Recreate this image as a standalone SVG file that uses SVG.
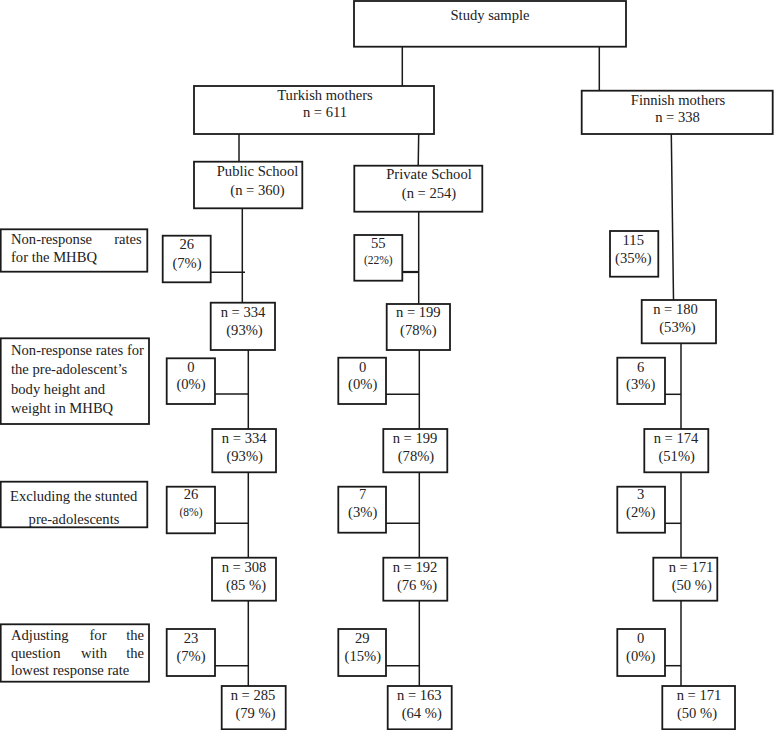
<svg xmlns="http://www.w3.org/2000/svg" width="774" height="730" viewBox="0 0 774 730">
<style>
rect{fill:#fff;stroke:#1a1a1a;stroke-width:1.8}
text{font-family:"Liberation Serif","Times New Roman",serif;font-size:14.6px;fill:#222;text-anchor:middle}
text.l{text-anchor:start}
.s{font-size:11.5px}
#connectors line{stroke:#1a1a1a;stroke-width:1.5}
</style>
<rect x="0" y="0" width="774" height="730" style="stroke:none;fill:#fff"/>
<g id="connectors">
<line x1="402.3" y1="46.7" x2="402.3" y2="86"/>
<line x1="599.3" y1="46.7" x2="599.3" y2="90.7"/>
<line x1="239" y1="134" x2="239" y2="162"/>
<line x1="418.7" y1="134" x2="418.2" y2="166"/>
<line x1="671.3" y1="134" x2="673.5" y2="300"/>
<line x1="242.3" y1="208.3" x2="242.3" y2="302.7"/>
<line x1="248.3" y1="350" x2="248.3" y2="429"/>
<line x1="248.3" y1="472.3" x2="248.3" y2="557.7"/>
<line x1="248.3" y1="600.7" x2="248.3" y2="686"/>
<line x1="210.7" y1="272.3" x2="245" y2="272.3"/>
<line x1="215" y1="394" x2="249" y2="394"/>
<line x1="215" y1="523.3" x2="249" y2="523.3"/>
<line x1="215" y1="665.7" x2="249" y2="665.7"/>
<line x1="418.7" y1="211.7" x2="418.7" y2="304"/>
<line x1="419.3" y1="350" x2="419.3" y2="429"/>
<line x1="419.3" y1="472.3" x2="419.3" y2="557.7"/>
<line x1="419.3" y1="600.7" x2="419.3" y2="686"/>
<line x1="402.3" y1="272" x2="419" y2="272" style="stroke-width:2.2"/>
<line x1="386" y1="394.3" x2="419.3" y2="394.3"/>
<line x1="386" y1="523.3" x2="419.3" y2="523.3"/>
<line x1="386" y1="665.7" x2="419.3" y2="665.7"/>
<line x1="681" y1="343.3" x2="681" y2="429"/>
<line x1="681" y1="472.3" x2="681" y2="557.7"/>
<line x1="681" y1="600.7" x2="681" y2="686"/>
<line x1="665" y1="394.3" x2="681" y2="394.3"/>
<line x1="665" y1="523.3" x2="681" y2="523.3"/>
<line x1="665" y1="665.7" x2="681" y2="665.7"/>
</g>
<g id="study"><rect x="354" y="1" width="272" height="45.7"/><text x="490" y="20">Study sample</text></g>
<g id="turkish"><rect x="194" y="86" width="240" height="48"/><text x="325" y="100">Turkish mothers</text><text x="325" y="117">n = 611</text></g>
<g id="finnish"><rect x="581.7" y="90.7" width="191" height="43.3"/><text x="678" y="105">Finnish mothers</text><text x="677.5" y="122">n = 338</text></g>
<g id="public"><rect x="194" y="161.7" width="108.3" height="46.6"/><text x="257.5" y="176">Public School</text><text x="257.5" y="195">(n = 360)</text></g>
<g id="private"><rect x="354.3" y="165.7" width="128" height="46"/><text x="429" y="179.3">Private School</text><text x="429" y="197.7">(n = 254)</text></g>
<g id="label1"><rect x="0.7" y="229.3" width="146.6" height="42.4"/><text class="l" y="244"><tspan x="11">Non-response</tspan><tspan x="141.7" style="text-anchor:end">rates</tspan></text><text class="l" x="11" y="262">for the MHBQ</text></g>
<g id="label2"><rect x="0.7" y="338.3" width="148.3" height="85.7"/><text class="l" x="11" y="355">Non-response rates for</text><text class="l" x="11" y="374">the pre-adolescent’s</text><text class="l" x="11" y="394">body height and</text><text class="l" x="11" y="413">weight in MHBQ</text></g>
<g id="label3"><rect x="0.7" y="481.7" width="146.6" height="45.6"/><text class="l" x="10" y="500.7">Excluding the stunted</text><text x="74" y="524">pre-adolescents</text></g>
<g id="label4"><rect x="0.7" y="624.3" width="148.3" height="57.4"/><text class="l" y="640"><tspan x="11">Adjusting</tspan><tspan x="98" style="text-anchor:middle">for</tspan><tspan x="144" style="text-anchor:end">the</tspan></text><text class="l" y="657.7"><tspan x="11">question</tspan><tspan x="94" style="text-anchor:middle">with</tspan><tspan x="144" style="text-anchor:end">the</tspan></text><text class="l" x="11" y="675">lowest response rate</text></g>
<g id="pub-nr1"><rect x="162.7" y="235.7" width="48" height="46.6"/><text x="186.7" y="249">26</text><text x="187" y="267.7">(7%)</text></g>
<g id="pub-n1"><rect x="210.7" y="302.7" width="64.3" height="47.3"/><text x="243" y="317">n = 334</text><text x="244.5" y="335">(93%)</text></g>
<g id="pub-nr2"><rect x="166.7" y="358.3" width="48.3" height="45.7"/><text x="191" y="371.7">0</text><text x="191" y="389">(0%)</text></g>
<g id="pub-n2"><rect x="212.3" y="429" width="63.7" height="43.3"/><text x="244.2" y="443">n = 334</text><text x="244.7" y="461">(93%)</text></g>
<g id="pub-nr3"><rect x="166.7" y="486.7" width="48.3" height="46.6"/><text x="191" y="499">26</text><text class="s" x="191" y="515.7">(8%)</text></g>
<g id="pub-n3"><rect x="212" y="557.7" width="64" height="43"/><text x="244" y="571.7">n = 308</text><text x="246" y="590">(85 %)</text></g>
<g id="pub-nr4"><rect x="166.7" y="629" width="48.3" height="47"/><text x="191" y="642.7">23</text><text x="191" y="660.7">(7%)</text></g>
<g id="pub-n4"><rect x="221.7" y="686" width="64" height="43.3"/><text x="253" y="700">n = 285</text><text x="255.5" y="718.3">(79 %)</text></g>
<g id="pri-nr1"><rect x="354.3" y="235" width="48" height="45.7"/><text x="378.3" y="248.3">55</text><text class="s" x="378.3" y="264">(22%)</text></g>
<g id="pri-n1"><rect x="386.7" y="304" width="63.3" height="46"/><text x="418.3" y="317.3">n = 199</text><text x="418.3" y="335">(78%)</text></g>
<g id="pri-nr2"><rect x="338.3" y="357.7" width="47.7" height="46.3"/><text x="362.7" y="371.7">0</text><text x="362.7" y="389">(0%)</text></g>
<g id="pri-n2"><rect x="383.3" y="429" width="64" height="43.3"/><text x="415" y="443">n = 199</text><text x="416" y="461">(78%)</text></g>
<g id="pri-nr3"><rect x="338.3" y="486.7" width="47.7" height="46"/><text x="362.7" y="499">7</text><text x="362.7" y="517.3">(3%)</text></g>
<g id="pri-n3"><rect x="383.3" y="557.7" width="64" height="43"/><text x="415" y="571.7">n = 192</text><text x="417" y="590">(76 %)</text></g>
<g id="pri-nr4"><rect x="338.3" y="629" width="47.7" height="47"/><text x="362.3" y="642.7">29</text><text x="362.8" y="660.7">(15%)</text></g>
<g id="pri-n4"><rect x="387.7" y="686" width="64" height="43.3"/><text x="419.3" y="700">n = 163</text><text x="421.7" y="718.3">(64 %)</text></g>
<g id="fin-nr1"><rect x="610" y="231" width="48.3" height="45.7"/><text x="633.3" y="245">115</text><text x="633.3" y="263.3">(35%)</text></g>
<g id="fin-n1"><rect x="641.7" y="300" width="74.3" height="43.3"/><text x="675.5" y="314">n = 180</text><text x="677.5" y="331.7">(53%)</text></g>
<g id="fin-nr2"><rect x="617.3" y="357.7" width="47.7" height="46.3"/><text x="640.7" y="371.7">6</text><text x="640.7" y="389">(3%)</text></g>
<g id="fin-n2"><rect x="644.3" y="429" width="64" height="43.3"/><text x="676" y="443">n = 174</text><text x="676.7" y="461">(51%)</text></g>
<g id="fin-nr3"><rect x="617.3" y="486.7" width="47.7" height="46"/><text x="640.7" y="499">3</text><text x="640.7" y="517.3">(2%)</text></g>
<g id="fin-n3"><rect x="653.3" y="557.7" width="64" height="43"/><text x="691" y="571.7">n = 171</text><text x="691.7" y="590">(50 %)</text></g>
<g id="fin-nr4"><rect x="617.3" y="629" width="47.7" height="47"/><text x="640.7" y="642.7">0</text><text x="640.7" y="660.7">(0%)</text></g>
<g id="fin-n4"><rect x="662.3" y="686" width="72.7" height="43.3"/><text x="699" y="700">n = 171</text><text x="697" y="718.3">(50 %)</text></g>
</svg>
